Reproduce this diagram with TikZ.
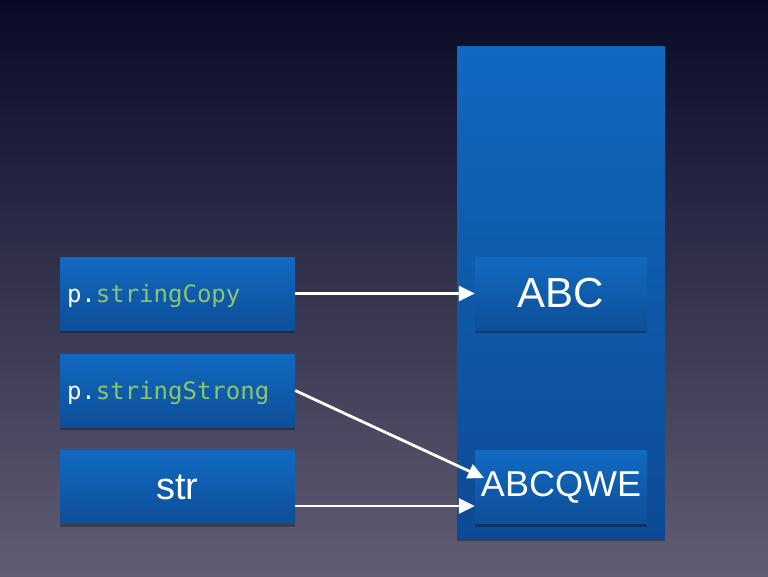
\documentclass[tikz,border=0pt]{standalone}
\usepackage{fontspec}
\setmainfont{Liberation Sans}
\setmonofont{DejaVu Sans Mono}
\usetikzlibrary{arrows.meta,shadows,positioning}
\definecolor{bgtop}{RGB}{10,10,38}
\definecolor{bgbot}{RGB}{96,93,116}
\definecolor{boxtop}{RGB}{17,106,193}
\definecolor{boxbot}{RGB}{13,78,152}
\definecolor{heaptop}{RGB}{16,104,192}
\definecolor{heapbot}{RGB}{14,74,148}
\definecolor{propgreen}{RGB}{140,198,108}
\tikzset{>={Triangle[length=16pt,width=15pt]}}
\tikzset{
  boxshadow/.style={drop shadow={shadow xshift=0pt,shadow yshift=-3pt,fill=black,opacity=0.3}},
  varbox/.style={top color=boxtop,bottom color=boxbot,boxshadow,
    minimum width=235pt,minimum height=73pt,inner ysep=0pt,text=white},
  valbox/.style={top color=boxtop,bottom color=boxbot,boxshadow,
    minimum width=172pt,minimum height=73pt,inner sep=0pt,text=white},
  ptr/.style={draw=white,line width=2.8pt,->}
}
\newcommand{\prop}[1]{\ttfamily\fontsize{24}{28}\selectfont p.\textcolor{propgreen}{#1}}
\begin{document}
\begin{tikzpicture}[x=1pt,y=-1pt]
\def\leftx {177.5} % center of the variable boxes
\def\heapx {561}   % center of the heap column
% background:
 \useasboundingbox (0,0) rectangle (768,576);
 \fill[top color=bgtop,bottom color=bgbot] (0,0) rectangle (768,576);
% heap:
 \node[top color=heaptop,bottom color=heapbot,boxshadow,minimum width=208pt,minimum height=492pt] (heap) at (\heapx,292) {};
 \node[valbox,font=\fontsize{42}{46}\selectfont] (abc) at (\heapx,293.5) {ABC};
 \node[valbox,font=\fontsize{36}{40}\selectfont] (abcqwe) at (\heapx,487) {ABCQWE};
% variables:
 \node[varbox,text width=221pt,inner xsep=7pt,align=left,text depth=0pt,yshift=-2pt] (scopy) at (\leftx,291.5) {\prop{stringCopy}};
 \node[varbox,text width=221pt,inner xsep=7pt,align=left,text depth=0pt,yshift=-2pt] (sstrong) at (\leftx,388.5) {\prop{stringStrong}};
 \node[varbox,font=\fontsize{38}{42}\selectfont] (str) at (\leftx,487) {str};
%% pointers:
 \coordinate (hit) at (484,478);
 \draw[ptr] (scopy) -- (abc);
 \draw[ptr] (sstrong.east) -- (hit);
 \draw[ptr] ([yshift=-19pt]str.east) -- ([yshift=-19pt]abcqwe.west);
\end{tikzpicture}
\end{document}
